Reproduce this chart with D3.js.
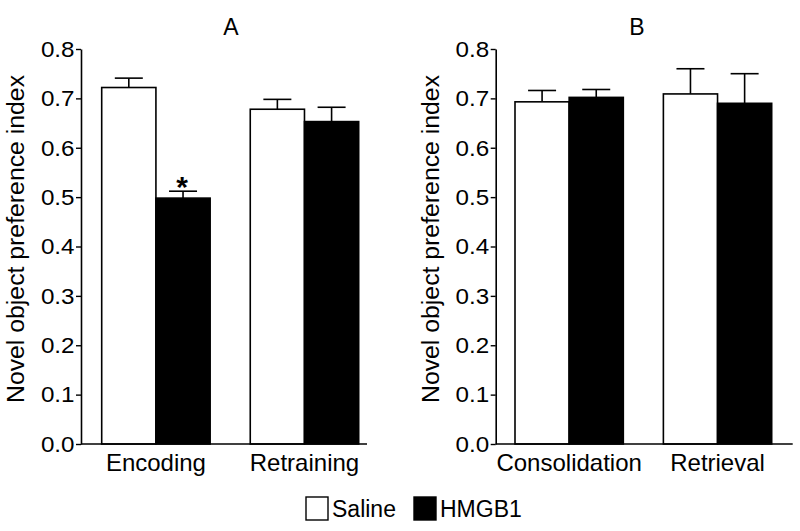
<!DOCTYPE html>
<html><head><meta charset="utf-8">
<script src="https://cdn.jsdelivr.net/npm/d3@7"></script>
<style>body{margin:0;background:#fff}svg{display:block}text{font-family:"Liberation Sans",Arial,sans-serif;fill:#000}</style>
</head><body><svg id="c" width="800" height="531"></svg>
<script>
const seriesNames = ["Saline", "HMGB1"];
const seriesColors = ["#ffffff", "#000000"];
const panelTitles = ["A", "B"];
const categoriesA = ["Encoding", "Retraining"];
const salineA = [0.722, 0.678];
const hmgbA = [0.498, 0.653];
const salineErrA = [0.019, 0.020];
const hmgbErrA = [0.014, 0.029];
const categoriesB = ["Consolidation", "Retrieval"];
const salineB = [0.693, 0.709];
const hmgbB = [0.702, 0.690];
const salineErrB = [0.023, 0.051];
const hmgbErrB = [0.016, 0.060];
const yTicks = [0, 0.1, 0.2, 0.3, 0.4, 0.5, 0.6, 0.7, 0.8];
const yLabel = "Novel object preference index";
const sigMarks = [{panel: 0, cat: 0, series: 1, text: "*"}];

const svg = d3.select("#c");
const yTop = 49, yBot = 444;
const y = d3.scaleLinear().domain([0, 0.8]).range([yBot, yTop]);
const tickSX = 1.1;

const panels = [
  {title: panelTitles[0], cats: categoriesA, vals: [salineA, hmgbA], errs: [salineErrA, hmgbErrA], axX: 81, axEnd: 367, b0: 101.7, b1: 358.7, titleX: 231},
  {title: panelTitles[1], cats: categoriesB, vals: [salineB, hmgbB], errs: [salineErrB, hmgbErrB], axX: 495.7, axEnd: 792.7, b0: 515, b1: 771.7, titleX: 637}
];

panels.forEach((p, pi) => {
  const g = svg.append("g");
  const x0 = d3.scaleBand().domain(p.cats).range([p.b0, p.b1]).paddingInner(0.27).paddingOuter(0);
  const x1 = d3.scaleBand().domain(seriesNames).range([0, x0.bandwidth()]).padding(0);

  p.cats.forEach((c, ci) => {
    seriesNames.forEach((s, si) => {
      const v = p.vals[si][ci], e = p.errs[si][ci];
      const bx = x0(c) + x1(s), bw = x1.bandwidth();
      const cx = bx + bw / 2;
      g.append("line").attr("x1", cx).attr("x2", cx).attr("y1", y(v)).attr("y2", y(v + e))
        .attr("stroke", "#000").attr("stroke-width", 1.6);
      g.append("line").attr("x1", cx - 14).attr("x2", cx + 14).attr("y1", y(v + e)).attr("y2", y(v + e))
        .attr("stroke", "#000").attr("stroke-width", 1.6);
      g.append("rect").attr("x", bx).attr("y", y(v)).attr("width", bw).attr("height", y(0) - y(v))
        .attr("fill", seriesColors[si]).attr("stroke", "#000").attr("stroke-width", 1.6);
    });
  });

  sigMarks.filter(m => m.panel === pi).forEach(m => {
    const c = p.cats[m.cat], s = seriesNames[m.series];
    const cx = x0(c) + x1(s) + x1.bandwidth() / 2;
    const top = p.vals[m.series][m.cat] + p.errs[m.series][m.cat];
    g.append("text").attr("x", cx - 1).attr("y", y(top) + 6).attr("text-anchor", "middle")
      .attr("font-size", 30).attr("font-weight", "bold").text(m.text);
  });

  const ya = g.append("g").attr("transform", `translate(${p.axX},0)`)
    .call(d3.axisLeft(y).tickValues(yTicks).tickFormat(d3.format(".1f")).tickSize(5).tickSizeOuter(0).tickPadding(2));
  ya.select(".domain").attr("stroke-width", 1.6);
  ya.selectAll(".tick line").attr("stroke-width", 1.4);
  ya.selectAll(".tick text").attr("font-size", 22).attr("font-family", "Liberation Sans, Arial, sans-serif").attr("fill", "#000")
    .attr("x", -6.5 / tickSX).attr("dy", "0.33em").attr("transform", `scale(${tickSX},1)`);

  g.append("line").attr("x1", p.axX).attr("x2", p.axEnd).attr("y1", yBot).attr("y2", yBot)
    .attr("stroke", "#000").attr("stroke-width", 1.6);
  const xa = g.append("g").attr("transform", `translate(0,${yBot})`)
    .call(d3.axisBottom(x0).tickSize(0).tickPadding(10));
  xa.select(".domain").remove();
  xa.selectAll("text").attr("font-size", 24).attr("font-family", "Liberation Sans, Arial, sans-serif").attr("fill", "#000").attr("dy", "0.71em");

  g.append("text").attr("x", p.titleX).attr("y", 35).attr("text-anchor", "middle").attr("font-size", 23).text(p.title);

  g.append("text").attr("transform", `translate(${p.axX - 57},239) rotate(-90)`)
    .attr("text-anchor", "middle").attr("font-size", 24.8).text(yLabel);
});

const legX = [306, 414];
const lg = svg.append("g");
seriesNames.forEach((s, i) => {
  lg.append("rect").attr("x", legX[i]).attr("y", 497).attr("width", 22).attr("height", 23)
    .attr("fill", seriesColors[i]).attr("stroke", "#000").attr("stroke-width", 1.4);
  lg.append("text").attr("x", legX[i] + 26).attr("y", 517).attr("font-size", 23).text(s);
});
</script></body></html>
